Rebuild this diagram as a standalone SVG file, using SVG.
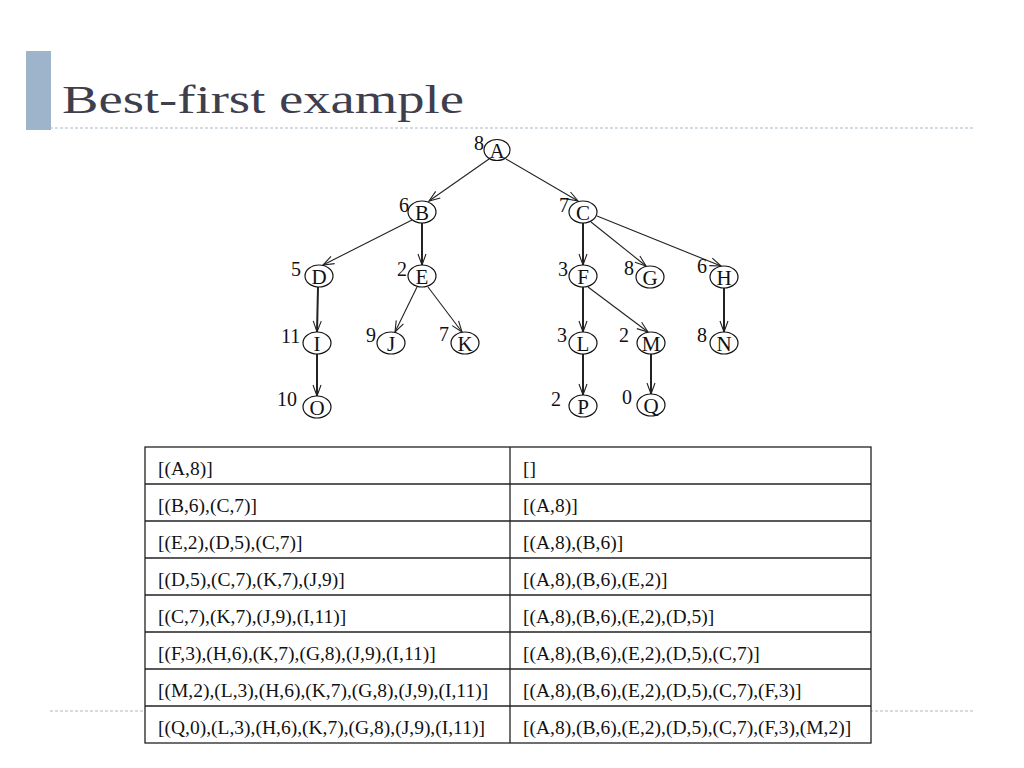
<svg xmlns="http://www.w3.org/2000/svg" width="1024" height="768" viewBox="0 0 1024 768">
<defs>
<style>
.title{font-family:"Liberation Serif","Times New Roman",serif;font-size:41px;fill:#3e3e4c}
.nd ellipse{fill:#fff;stroke:#111;stroke-width:1.2}
.nd text{font-family:"Liberation Serif","Times New Roman",serif;font-size:21px;fill:#111}
.nd .lt{text-anchor:middle}
.nd .w{font-size:20px}
.e{stroke:#222;stroke-width:1.1;fill:none;marker-end:url(#ah)}
.v{stroke-width:2}
.dash{stroke:#a9b9c9;stroke-width:1.2;stroke-dasharray:3 2;fill:none}
.tb{fill:#fff;stroke:#222;stroke-width:1.3}
.tl{stroke:#222;stroke-width:1.3}
.tt{font-family:"Liberation Serif","Times New Roman",serif;font-size:19.5px;fill:#111}
</style>
<marker id="ah" markerUnits="userSpaceOnUse" markerWidth="13" markerHeight="10" viewBox="0 0 13 10" refX="12" refY="5" orient="auto">
<path d="M1,1 L12,5 L1,9" fill="none" stroke="#222" stroke-width="1.1"/>
</marker>
</defs>
<rect width="1024" height="768" fill="#fff"/>
<rect x="26" y="51" width="25" height="79" fill="#9db4ca"/>
<text class="title" x="62" y="113" textLength="402" lengthAdjust="spacingAndGlyphs">Best-first example</text>
<line class="dash" x1="50" y1="128" x2="973" y2="128"/>
<line class="dash" x1="50" y1="711" x2="973" y2="711" stroke="#9ab2c8"/>

<g id="connectors">
<line class="e" x1="489" y1="159" x2="429" y2="201"/>
<line class="e" x1="506" y1="159" x2="578" y2="201"/>
<line class="e" x1="412" y1="220" x2="323" y2="265"/>
<line class="e v" x1="422" y1="223" x2="422" y2="265"/>
<line class="e v" x1="583" y1="223" x2="583" y2="265"/>
<line class="e" x1="591" y1="222" x2="646" y2="266"/>
<line class="e" x1="597" y1="216" x2="721" y2="266"/>
<line class="e v" x1="318" y1="287" x2="317" y2="332"/>
<line class="e" x1="417" y1="287" x2="395" y2="332"/>
<line class="e" x1="428" y1="287" x2="462" y2="332"/>
<line class="e v" x1="583" y1="287" x2="583" y2="332"/>
<line class="e" x1="588" y1="287" x2="648" y2="332"/>
<line class="e v" x1="724" y1="288" x2="724" y2="332"/>
<line class="e v" x1="317" y1="354" x2="317" y2="396"/>
<line class="e v" x1="583" y1="354" x2="583" y2="395"/>
<line class="e v" x1="651" y1="354" x2="651" y2="394"/>
</g>

<g id="A" class="nd"><ellipse cx="497" cy="150" rx="13" ry="10.5"/><text class="lt" x="497" y="157.5">A</text><text class="w" x="474" y="150">8</text></g>
<g id="B" class="nd"><ellipse cx="422" cy="212" rx="14" ry="11"/><text class="lt" x="422" y="219.5">B</text><text class="w" x="399" y="212">6</text></g>
<g id="C" class="nd"><ellipse cx="583" cy="212" rx="14" ry="11"/><text class="lt" x="583" y="219.5">C</text><text class="w" x="559" y="212">7</text></g>
<g id="D" class="nd"><ellipse cx="319" cy="276" rx="14" ry="11"/><text class="lt" x="319" y="283.5">D</text><text class="w" x="291" y="276">5</text></g>
<g id="E" class="nd"><ellipse cx="422" cy="276" rx="14" ry="11"/><text class="lt" x="422" y="283.5">E</text><text class="w" x="397" y="276">2</text></g>
<g id="F" class="nd"><ellipse cx="583" cy="276" rx="14" ry="11"/><text class="lt" x="583" y="283.5">F</text><text class="w" x="558" y="276">3</text></g>
<g id="G" class="nd"><ellipse cx="650" cy="277" rx="14" ry="11"/><text class="lt" x="650" y="284.5">G</text><text class="w" x="624" y="275">8</text></g>
<g id="H" class="nd"><ellipse cx="724" cy="277" rx="14" ry="11"/><text class="lt" x="724" y="284.5">H</text><text class="w" x="697" y="273">6</text></g>
<g id="I" class="nd"><ellipse cx="317" cy="343" rx="14" ry="11"/><text class="lt" x="317" y="350.5">I</text><text class="w" x="281" y="343">11</text></g>
<g id="J" class="nd"><ellipse cx="391" cy="343" rx="14" ry="11"/><text class="lt" x="391" y="350.5">J</text><text class="w" x="366" y="342">9</text></g>
<g id="K" class="nd"><ellipse cx="465" cy="343" rx="14" ry="11"/><text class="lt" x="465" y="350.5">K</text><text class="w" x="439" y="341">7</text></g>
<g id="L" class="nd"><ellipse cx="583" cy="343" rx="14" ry="11"/><text class="lt" x="583" y="350.5">L</text><text class="w" x="557" y="342">3</text></g>
<g id="M" class="nd"><ellipse cx="651" cy="343" rx="14" ry="11"/><text class="lt" x="651" y="350.5">M</text><text class="w" x="619" y="342">2</text></g>
<g id="N" class="nd"><ellipse cx="724" cy="343" rx="14" ry="11"/><text class="lt" x="724" y="350.5">N</text><text class="w" x="697" y="342">8</text></g>
<g id="O" class="nd"><ellipse cx="317" cy="407" rx="14" ry="11"/><text class="lt" x="317" y="414.5">O</text><text class="w" x="277" y="406">10</text></g>
<g id="P" class="nd"><ellipse cx="583" cy="406" rx="14" ry="11"/><text class="lt" x="583" y="413.5">P</text><text class="w" x="551" y="406">2</text></g>
<g id="Q" class="nd"><ellipse cx="651" cy="405" rx="14" ry="11"/><text class="lt" x="651" y="412.5">Q</text><text class="w" x="622" y="404">0</text></g>

<g id="table">
<rect class="tb" x="145" y="447" width="726" height="296"/>
<line class="tl" x1="510" y1="447" x2="510" y2="743"/>
<line class="tl" x1="145" y1="484" x2="871" y2="484"/>
<line class="tl" x1="145" y1="521" x2="871" y2="521"/>
<line class="tl" x1="145" y1="558" x2="871" y2="558"/>
<line class="tl" x1="145" y1="595" x2="871" y2="595"/>
<line class="tl" x1="145" y1="632" x2="871" y2="632"/>
<line class="tl" x1="145" y1="669" x2="871" y2="669"/>
<line class="tl" x1="145" y1="706" x2="871" y2="706"/>
<text class="tt" x="158" y="474.5">[(A,8)]</text>
<text class="tt" x="523" y="474.5">[]</text>
<text class="tt" x="158" y="511.5">[(B,6),(C,7)]</text>
<text class="tt" x="523" y="511.5">[(A,8)]</text>
<text class="tt" x="158" y="548.5">[(E,2),(D,5),(C,7)]</text>
<text class="tt" x="523" y="548.5">[(A,8),(B,6)]</text>
<text class="tt" x="158" y="585.5">[(D,5),(C,7),(K,7),(J,9)]</text>
<text class="tt" x="523" y="585.5">[(A,8),(B,6),(E,2)]</text>
<text class="tt" x="158" y="622.5">[(C,7),(K,7),(J,9),(I,11)]</text>
<text class="tt" x="523" y="622.5">[(A,8),(B,6),(E,2),(D,5)]</text>
<text class="tt" x="158" y="659.5">[(F,3),(H,6),(K,7),(G,8),(J,9),(I,11)]</text>
<text class="tt" x="523" y="659.5">[(A,8),(B,6),(E,2),(D,5),(C,7)]</text>
<text class="tt" x="158" y="696.5">[(M,2),(L,3),(H,6),(K,7),(G,8),(J,9),(I,11)]</text>
<text class="tt" x="523" y="696.5">[(A,8),(B,6),(E,2),(D,5),(C,7),(F,3)]</text>
<text class="tt" x="158" y="733.5">[(Q,0),(L,3),(H,6),(K,7),(G,8),(J,9),(I,11)]</text>
<text class="tt" x="523" y="733.5">[(A,8),(B,6),(E,2),(D,5),(C,7),(F,3),(M,2)]</text>
</g>
</svg>
